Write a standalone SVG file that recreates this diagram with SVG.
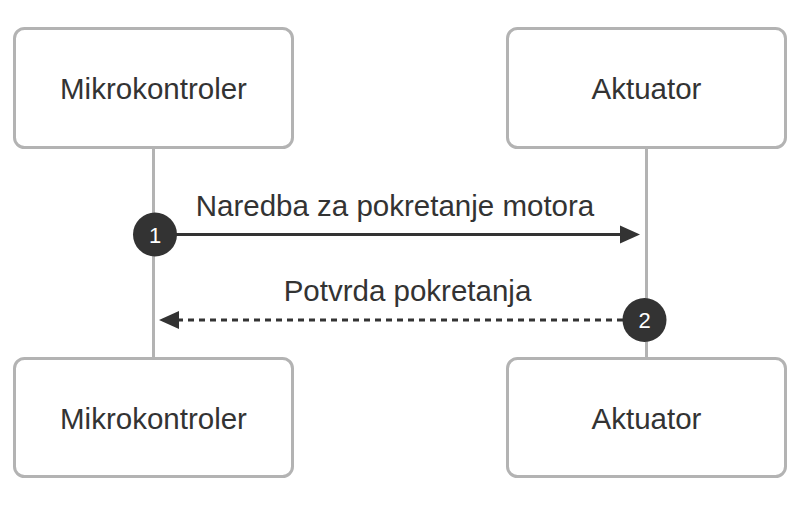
<svg xmlns="http://www.w3.org/2000/svg" width="808" height="508" viewBox="0 0 808 508">
<style>
.box{fill:#ffffff;stroke:#b3b3b3;stroke-width:3}
.life{stroke:#b3b3b3;stroke-width:3}
.lbl{font-family:"Liberation Sans",Arial,sans-serif;font-size:29.5px;fill:#333333;text-anchor:middle}
.msg{stroke:#333333;stroke-width:3;fill:none}
.head{fill:#333333}
.num{fill:#333333}
.numt{font-family:"Liberation Sans",Arial,sans-serif;font-size:22px;fill:#ffffff;text-anchor:middle}
</style>
<rect width="808" height="508" fill="#ffffff"/>
<g id="lifelines">
<line class="life" x1="153.5" y1="149" x2="153.5" y2="357"/>
<line class="life" x1="646.5" y1="149" x2="646.5" y2="357"/>
</g>
<g id="mikro-top">
<rect class="box" x="14.5" y="28.5" width="278" height="119" rx="10"/>
<text class="lbl" x="153.5" y="98.5">Mikrokontroler</text>
</g>
<g id="akt-top">
<rect class="box" x="507.5" y="28.5" width="278" height="119" rx="10"/>
<text class="lbl" x="646.5" y="98.5">Aktuator</text>
</g>
<g id="mikro-bottom">
<rect class="box" x="14.5" y="358.5" width="278" height="118" rx="10"/>
<text class="lbl" x="153.5" y="428.5">Mikrokontroler</text>
</g>
<g id="akt-bottom">
<rect class="box" x="507.5" y="358.5" width="278" height="118" rx="10"/>
<text class="lbl" x="646.5" y="428.5">Aktuator</text>
</g>
<g id="connectors">
<line class="msg" x1="155" y1="234.5" x2="622" y2="234.5"/>
<polygon class="head" points="640,234.5 620,225.5 620,243.5"/>
<text class="lbl" x="395" y="216">Naredba za pokretanje motora</text>
<line class="msg" x1="645" y1="320" x2="177" y2="320" stroke-dasharray="6 5"/>
<polygon class="head" points="159,320 179,311 179,329"/>
<text class="lbl" x="407.5" y="301">Potvrda pokretanja</text>
</g>
<g id="step1">
<circle class="num" cx="155" cy="234.5" r="22"/>
<text class="numt" x="155" y="242.5">1</text>
</g>
<g id="step2">
<circle class="num" cx="644.5" cy="320" r="22"/>
<text class="numt" x="644.5" y="328">2</text>
</g>
</svg>
